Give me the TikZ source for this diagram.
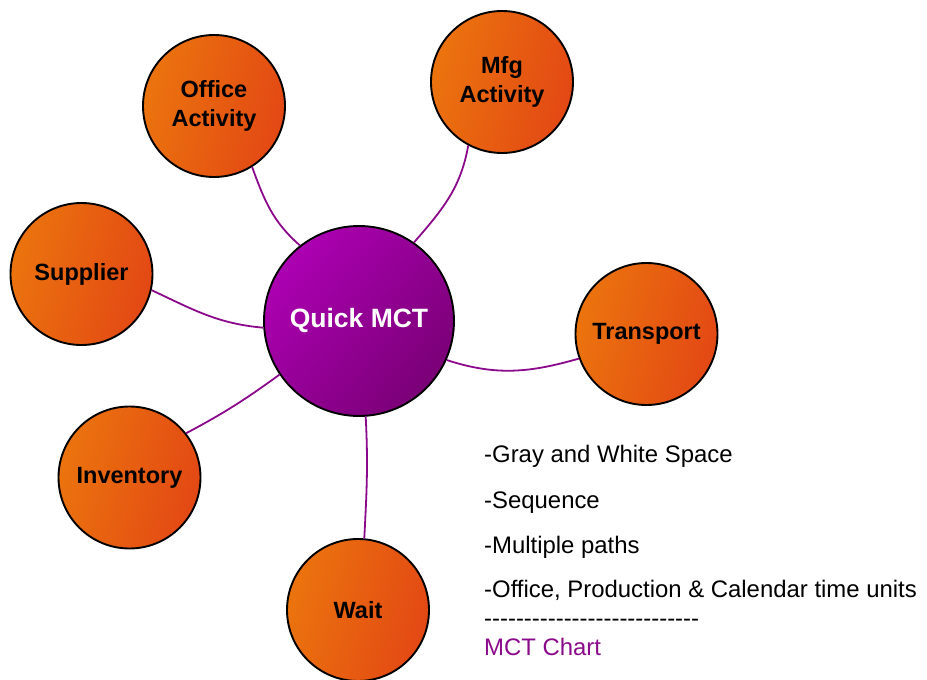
\documentclass[tikz,border=0pt]{standalone}
\usepackage{fontspec}
\setmainfont{Liberation Sans}
\newfontfamily\plainarial{Liberation Sans}
\usetikzlibrary{positioning}
\definecolor{mctpurple}{RGB}{139,10,139}
\definecolor{hubtop}{RGB}{172,0,178}
\definecolor{hubbot}{RGB}{122,0,118}
\definecolor{spokeA}{RGB}{235,116,14}
\definecolor{spokeB}{RGB}{227,72,20}

\begin{document}
\begin{tikzpicture}[x=1pt,y=-1pt,
 hub/.style={circle,draw=black,line width=1.9pt,minimum size=190pt,inner sep=0pt,left color=hubtop,right color=hubbot,shading angle=50,text=white,font=\fontsize{26.5}{30}\selectfont\bfseries},
 spoke/.style={circle,draw=black,line width=1.9pt,minimum size=142pt,inner sep=0pt,left color=spokeA,right color=spokeB,shading angle=75,align=center,font=\fontsize{23.5}{29}\selectfont\bfseries},
 link/.style={draw=mctpurple,line width=1.8pt},
 note/.style={anchor=base west,inner sep=0pt,font=\plainarial\fontsize{23.9}{28}\selectfont}]
 \useasboundingbox (0,0) rectangle (927,680);
 % centre and spokes
 \node[hub] (quick) at (359,321) {Quick MCT};
 \node[spoke] (office) at (214,106) {Office\\Activity};
 \node[spoke] (mfg) at (502,82) {Mfg\\Activity};
 \node[spoke] (supplier) at (81.5,274) {Supplier};
 \node[spoke] (transport) at (646.5,334) {Transport};
 \node[spoke] (inventory) at (129.5,477.5) {Inventory};
 \node[spoke] (wait) at (358,610) {Wait};
 % links
 \draw[link] (office.-58) to[out=-70,in=139] (quick.128);
 \draw[link] (mfg.-118) to[out=-100,in=49] (quick.55);
 \draw[link] (supplier.-13) to[out=-25,in=175] (quick.184);
 \draw[link] (inventory.38) to[out=28,in=-144] (quick.214);
 \draw[link] (quick.-24) to[out=-18,in=196] (transport.200);
 \draw[link] (wait.85) to[out=87,in=-87] (quick.-86);
 % notes
 \node[note] (gray) at (484,462) {-Gray and White Space};
 \node[note] (sequence) at (484,508) {-Sequence};
 \node[note] (paths) at (484,553) {-Multiple paths};
 \node[note] (units) at (484,597) {-Office, Production \& Calendar time units};
 \node[note] (rule) at (484,626) {---------------------------};
 \node[note,text=mctpurple] (chart) at (484,655) {MCT Chart};
\end{tikzpicture}
\end{document}
